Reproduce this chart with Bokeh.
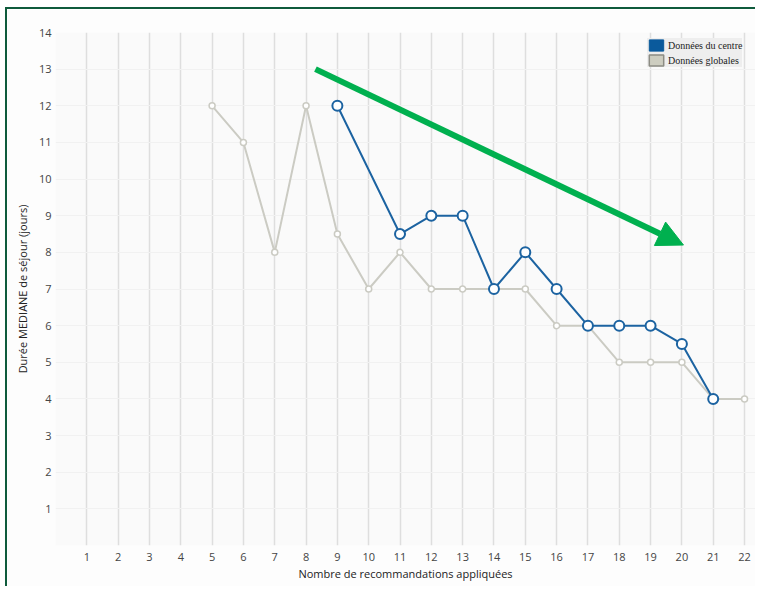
from bokeh.plotting import figure
from bokeh.models import (Range1d, FixedTicker, Legend, LegendItem, Arrow, NormalHead)
from bokeh.embed import file_html
from bokeh.resources import INLINE

# ---- data ----
centre_x = [9, 11, 12, 13, 14, 15, 16, 17, 18, 19, 20, 21]
centre_y = [12, 8.5, 9, 9, 7, 8, 7, 6, 6, 6, 5.5, 4]
global_x = [5, 6, 7, 8, 9, 10, 11, 12, 13, 14, 15, 16, 17, 18, 19, 20, 21, 22]
global_y = [12, 11, 8, 12, 8.5, 7, 8, 7, 7, 7, 7, 6, 6, 5, 5, 5, 4, 4]
x_ticks = list(range(1, 23))
y_ticks = list(range(1, 15))
series_names = ["Données du centre", "Données globales"]
# trend arrow (annotation), in data units
arrow_start = (8.3, 13.0)
arrow_end = (20.05, 8.2)

BLUE = "#1c63a1"
GREY = "#cbcbc3"
FONT = "Open Sans"
NAN = float("nan")

p = figure(width=750, height=579, output_backend="svg", toolbar_location=None,
           x_range=Range1d(0, 22.35), y_range=Range1d(0, 14),
           min_border_left=48, min_border_right=2, min_border_top=23, min_border_bottom=43)
p.styles = {"border-left": "2px solid #0f5b3c", "border-top": "2px solid #0f5b3c",
            "margin-left": "5px", "margin-top": "7px"}

p.background_fill_color = "#fafafa"
p.border_fill_color = "#fdfdfd"
p.outline_line_color = None

p.xaxis.ticker = FixedTicker(ticks=x_ticks)
p.yaxis.ticker = FixedTicker(ticks=y_ticks)
p.xgrid.ticker = FixedTicker(ticks=[0] + x_ticks)
p.xgrid.grid_line_color = "#dedede"
p.xgrid.grid_line_width = 1.5
p.ygrid.grid_line_color = "#f1f1f1"
p.ygrid.grid_line_width = 1

for ax in (p.xaxis, p.yaxis):
    ax.axis_line_color = None
    ax.major_tick_line_color = None
    ax.minor_tick_line_color = None
    ax.major_label_text_font = FONT
    ax.major_label_text_font_size = "11px"
    ax.major_label_text_color = "#444444"
    ax.axis_label_text_font = FONT
    ax.axis_label_text_font_size = "11px"
    ax.axis_label_text_font_style = "normal"
    ax.axis_label_text_color = "#222222"

p.xaxis.axis_label = "Nombre de recommandations appliquées"
p.yaxis.axis_label = "Durée MEDIANE de séjour (jours)"
p.xaxis.major_label_standoff = 1
p.yaxis.major_label_standoff = -2
p.xaxis.axis_label_standoff = 2
p.yaxis.axis_label_standoff = 6

# global series
p.line(global_x, global_y, line_color=GREY, line_width=2)
p.scatter(global_x, global_y, size=6, fill_color="white", line_color=GREY, line_width=1.5)
# centre series
p.line(centre_x, centre_y, line_color=BLUE, line_width=2)
p.scatter(centre_x, centre_y, size=10, fill_color="white", line_color=BLUE, line_width=2)

# arrow
p.add_layout(Arrow(x_start=arrow_start[0], y_start=arrow_start[1],
                   x_end=arrow_end[0], y_end=arrow_end[1],
                   line_color="#00b04f", line_width=6,
                   end=NormalHead(size=26, fill_color="#00b04f", line_color="#00b04f")))

# legend swatches (not drawn in the plot: NaN extents)
r1 = p.quad(left=[NAN], right=[NAN], top=[NAN], bottom=[NAN],
            fill_color="#0a5a9c", line_color="#0a5a9c")
r2 = p.quad(left=[NAN], right=[NAN], top=[NAN], bottom=[NAN],
            fill_color="#cdcdc0", line_color="#8c8c84", line_width=1.5)
legend = Legend(items=[LegendItem(label=series_names[0], renderers=[r1]),
                       LegendItem(label=series_names[1], renderers=[r2])],
                location=(592, 478))
legend.label_text_font = "Liberation Serif"
legend.label_text_font_size = "10px"
legend.label_text_color = "#222222"
legend.background_fill_color = "#eeeeee"
legend.background_fill_alpha = 1
legend.border_line_color = None
legend.glyph_width = 18
legend.glyph_height = 14
legend.label_height = 14
legend.spacing = 1
legend.padding = 2
legend.margin = 0
legend.label_standoff = 3
p.add_layout(legend)

open("out.html", "w").write(file_html(p, INLINE))
